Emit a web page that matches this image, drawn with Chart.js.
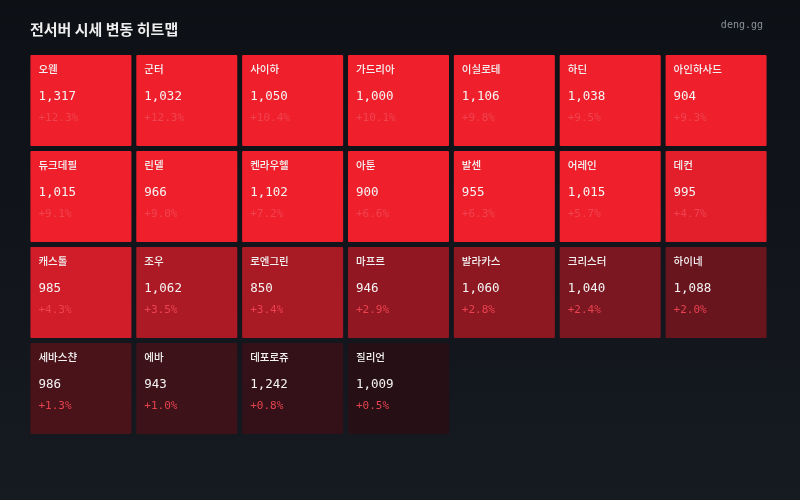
<!DOCTYPE html>
<html>
<head>
<meta charset="utf-8">
<script src="https://cdn.jsdelivr.net/npm/chart.js@4"></script>
<style>
  html, body { margin: 0; padding: 0; }
  body { width: 800px; height: 500px; background: linear-gradient(180deg, #0d1015 0%, #161a21 100%); overflow: hidden; }
  #wrap { position: relative; width: 800px; height: 500px; }
  canvas { display: block; }
</style>
</head>
<body>
<div id="wrap"><canvas id="c" width="800" height="500"></canvas></div>
<script>
// ---- data ----
const servers = ['오웬','군터','사이하','가드리아','이실로테','하딘','아인하사드',
                 '듀크데필','린델','켄라우헬','아툰','발센','어레인','데컨',
                 '캐스톨','조우','로엔그린','마프르','발라카스','크리스터','하이네',
                 '세바스챤','에바','데포로쥬','질리언'];
const prices = [1317,1032,1050,1000,1106,1038,904,
                1015,966,1102,900,955,1015,995,
                985,1062,850,946,1060,1040,1088,
                986,943,1242,1009];
const changes = [12.3,12.3,10.4,10.1,9.8,9.5,9.3,
                 9.1,9.0,7.2,6.6,6.3,5.7,4.7,
                 4.3,3.5,3.4,2.9,2.8,2.4,2.0,
                 1.3,1.0,0.8,0.5];
const columns = ['1','2','3','4','5','6','7'];
const title = '전서버 시세 변동 히트맵';
const brand = 'deng.gg';

// ---- styling helpers ----
const NCOL = columns.length;
const NROW = Math.ceil(servers.length / NCOL);
const HOT = [239, 32, 44], COLD = [16, 14, 20];
function heat(p) {
  const t = Math.max(0, Math.min(1, p / 5));
  const c = HOT.map((h, k) => Math.round(h * t + COLD[k] * (1 - t)));
  return `rgb(${c[0]},${c[1]},${c[2]})`;
}
const inset = 2.5 / 96;

const datasets = [];
for (let r = 0; r < NROW; r++) {
  const data = [], colors = [], idx = [];
  for (let c = 0; c < NCOL; c++) {
    const i = r * NCOL + c;
    if (i < servers.length) {
      data.push([r + inset, r + 1 - inset]);
      colors.push(heat(changes[i]));
      idx.push(i);
    } else {
      data.push(null); colors.push('transparent'); idx.push(-1);
    }
  }
  datasets.push({ data, backgroundColor: colors, borderWidth: 0, borderRadius: 1,
                  borderSkipped: false, grouped: false, idx,
                  barPercentage: 1, categoryPercentage: 101 / 105.86 });
}

const labelPlugin = {
  id: 'tileLabels',
  afterDatasetsDraw(chart) {
    const ctx = chart.ctx;
    ctx.save();
    chart.data.datasets.forEach((ds, di) => {
      const meta = chart.getDatasetMeta(di);
      meta.data.forEach((el, j) => {
        const i = ds.idx[j];
        if (i < 0) return;
        const top = Math.min(el.y, el.base);
        const left = el.x - el.width / 2;
        ctx.textBaseline = 'middle';
        ctx.textAlign = 'left';
        ctx.fillStyle = '#f2f2f2';
        ctx.font = '500 10.5px "Noto Sans CJK KR", "Noto Sans", sans-serif';
        ctx.fillText(servers[i], left + 8, top + 14);
        ctx.fillStyle = '#f4f4f4';
        ctx.font = '12.5px "DejaVu Sans Mono", monospace';
        ctx.fillText(prices[i].toLocaleString('en-US'), left + 8, top + 41.5);
        ctx.fillStyle = 'rgba(240,68,82,0.95)';
        ctx.font = '11px "DejaVu Sans Mono", monospace';
        ctx.fillText('+' + changes[i].toFixed(1) + '%', left + 8, top + 63.5);
      });
    });
    // header
    ctx.textBaseline = 'middle';
    ctx.textAlign = 'left';
    ctx.fillStyle = '#eeeeee';
    ctx.font = 'bold 15px "Noto Sans CJK KR", sans-serif';
    ctx.fillText(title, 30, 29);
    ctx.textAlign = 'right';
    ctx.fillStyle = '#8a9099';
    ctx.font = '10px "DejaVu Sans Mono", monospace';
    ctx.fillText(brand, 763, 25);
    ctx.restore();
  }
};

new Chart(document.getElementById('c'), {
  type: 'bar',
  data: { labels: columns, datasets },
  options: {
    responsive: false,
    animation: false,
    layout: { padding: { left: 28, right: 31, top: 52.5, bottom: 63.5 } },
    scales: {
      x: { display: false, offset: true },
      y: { display: false, min: 0, max: NROW, reverse: true }
    },
    plugins: { legend: { display: false }, tooltip: { enabled: false }, title: { display: false } }
  },
  plugins: [labelPlugin]
});
</script>
</body>
</html>
